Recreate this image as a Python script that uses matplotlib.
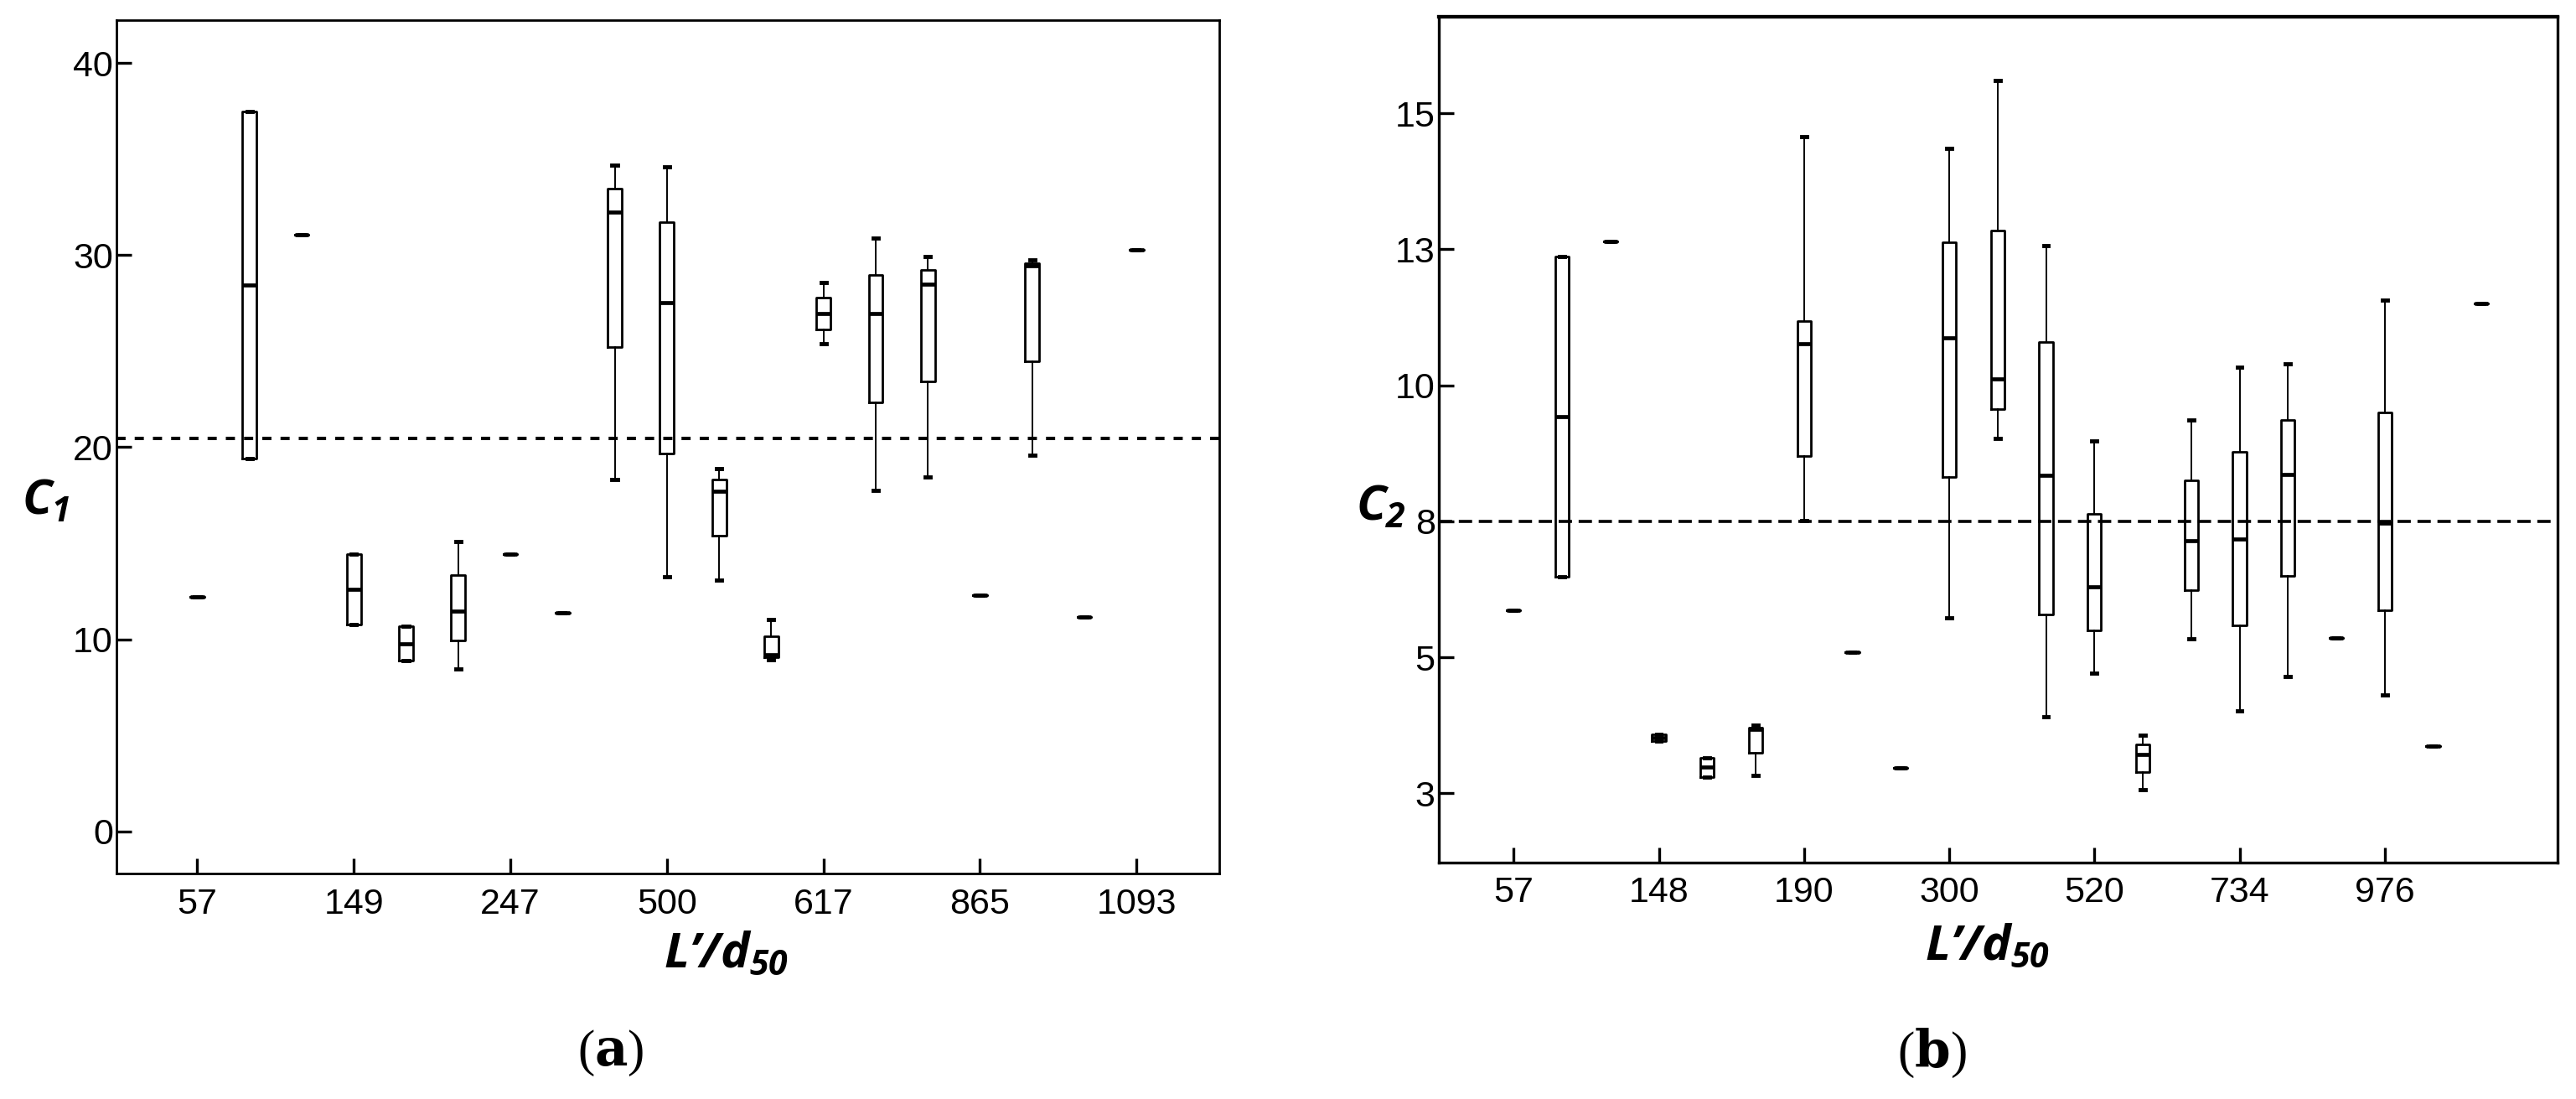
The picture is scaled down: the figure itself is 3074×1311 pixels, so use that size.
import matplotlib
matplotlib.use("Agg")
import matplotlib.pyplot as plt
from matplotlib import font_manager

# pick the first family that is actually installed
def pick_font(names):
    for n in names:
        try:
            font_manager.findfont(n, fallback_to_default=False)
            return n
        except Exception:
            pass
    return "DejaVu Sans"

SANS = pick_font(["Liberation Sans", "DejaVu Sans"])
LABEL = pick_font(["Open Sans", "Noto Sans", "DejaVu Sans"])
SERIF = pick_font(["Liberation Serif", "DejaVu Serif"])

plt.rcParams["font.family"] = [SANS, "DejaVu Sans"]
plt.rcParams["mathtext.fontset"] = "custom"
plt.rcParams["mathtext.it"] = f"{LABEL}:italic:bold"
plt.rcParams["mathtext.rm"] = f"{LABEL}:italic:bold"
plt.rcParams["mathtext.bf"] = f"{LABEL}:italic:bold"

# ---- panel (a): C1 ----
a_ticklabels = ["57", "149", "247", "500", "617", "865", "1093"]
a_whislo = [12.23, 19.43, 31.05, 10.77, 8.89, 8.44, 14.45, 11.38, 18.30, 13.26,
            13.10, 8.93, 25.40, 17.75, 18.44, 12.31, 19.57, 11.17, 30.26]
a_q1 = [12.23, 19.43, 31.05, 10.77, 8.89, 9.94, 14.45, 11.38, 25.20, 19.69,
        15.38, 9.05, 26.12, 22.33, 23.44, 12.31, 24.46, 11.17, 30.26]
a_med = [12.23, 28.43, 31.05, 12.60, 9.78, 11.46, 14.45, 11.38, 32.22, 27.53,
         17.71, 9.19, 26.98, 26.96, 28.47, 12.31, 29.44, 11.17, 30.26]
a_q3 = [12.23, 37.46, 31.05, 14.45, 10.67, 13.34, 14.45, 11.38, 33.45, 31.71,
        18.32, 10.18, 27.78, 28.95, 29.23, 12.31, 29.58, 11.17, 30.26]
a_whishi = [12.23, 37.46, 31.05, 14.45, 10.67, 15.08, 14.45, 11.38, 34.70, 34.58,
            18.89, 11.05, 28.56, 30.90, 29.93, 12.31, 29.76, 11.17, 30.26]
a_ref = 20.45

# ---- panel (b): C2 ----
b_ticklabels = ["57", "148", "190", "300", "520", "734", "976"]
b_whislo = [5.86, 6.48, 12.65, 3.46, 2.80, 2.83, 7.52, 5.09, 2.96, 5.73, 9.02,
            3.90, 4.70, 2.56, 5.34, 4.01, 4.64, 5.36, 4.31, 3.37, 11.51]
b_q1 = [5.86, 6.48, 12.65, 3.46, 2.80, 3.24, 8.70, 5.09, 2.96, 8.31, 9.56,
        5.78, 5.49, 2.89, 6.23, 5.59, 6.50, 5.36, 5.86, 3.37, 11.51]
b_med = [5.86, 9.42, 12.65, 3.52, 2.98, 3.68, 10.76, 5.09, 2.96, 10.88, 10.12,
         8.35, 6.29, 3.21, 7.14, 7.18, 8.36, 5.36, 7.46, 3.37, 11.51]
b_q3 = [5.86, 12.37, 12.65, 3.58, 3.15, 3.71, 11.18, 5.09, 2.96, 12.63, 12.85,
        10.80, 7.64, 3.39, 8.26, 8.78, 9.37, 5.36, 9.50, 3.37, 11.51]
b_whishi = [5.86, 12.37, 12.65, 3.58, 3.15, 3.75, 14.57, 5.09, 2.96, 14.35, 15.60,
            12.57, 8.98, 3.56, 9.36, 10.34, 10.39, 5.36, 11.56, 3.37, 11.51]
b_ref = 7.5
b_yticks = [2.5, 5.0, 7.5, 10.0, 12.5, 15.0]
b_yticklabels = ["3", "5", "8", "10", "13", "15"]


def draw_panel(ax, lo, q1, med, q3, hi, ticklabels, ref, dash, dash_lw, width):
    stats = []
    for i in range(len(med)):
        stats.append(dict(whislo=lo[i], q1=q1[i], med=med[i], q3=q3[i],
                          whishi=hi[i], fliers=[]))
    ax.bxp(stats, positions=range(len(med)), widths=width, showfliers=False,
           capwidths=0.1,
           boxprops=dict(color="black", linewidth=2.0),
           medianprops=dict(color="black", linewidth=3.4, solid_capstyle="butt"),
           whiskerprops=dict(color="black", linewidth=1.4),
           capprops=dict(color="black", linewidth=3.5))
    ax.axhline(ref, color="black", linewidth=dash_lw, linestyle=dash, zorder=0)
    n = len(med)
    ax.set_xlim(-1.55, n - 1 + 1.58)
    ax.set_xticks(range(0, n, 3))
    ax.set_xticklabels(ticklabels)
    for s in ax.spines.values():
        s.set_linewidth(2.0)
    ax.tick_params(axis="both", direction="in", length=13, width=2.4,
                   labelsize=31, pad=3)
    ax.tick_params(axis="x", pad=12)


fig = plt.figure(figsize=(30.74, 13.11), dpi=100)

ax1 = fig.add_axes([0.0452, 0.205, 0.428, 0.777])
draw_panel(ax1, a_whislo, a_q1, a_med, a_q3, a_whishi, a_ticklabels, a_ref,
           (0, (2.7, 2.7)), 2.9, 0.27)
ax1.set_ylim(-2.2, 42.25)
ax1.set_yticks([0, 10, 20, 30, 40])
ax1.text(-0.064, 0.436, r"$C_1$", transform=ax1.transAxes, fontsize=42,
         ha="center", va="center")
ax1.text(0.553, -0.095, r"$L$’$/d_{50}$", transform=ax1.transAxes,
         fontsize=42, ha="center", va="center", fontweight="bold",
         style="italic", family=LABEL)

ax2 = fig.add_axes([0.5585, 0.2154, 0.4345, 0.769])
draw_panel(ax2, b_whislo, b_q1, b_med, b_q3, b_whishi, b_ticklabels, b_ref,
           (0, (4.4, 2.2)), 2.6, 0.28)
ax2.set_ylim(1.23, 16.77)
ax2.set_yticks(b_yticks)
ax2.set_yticklabels(b_yticklabels)
for s in ax2.spines.values():
    s.set_linewidth(2.4)
ax2.spines["top"].set_linewidth(3.1)
ax2.text(-0.052, 0.42, r"$C_2$", transform=ax2.transAxes, fontsize=42,
         ha="center", va="center")
ax2.text(0.49, -0.10, r"$L$’$/d_{50}$", transform=ax2.transAxes,
         fontsize=42, ha="center", va="center", fontweight="bold",
         style="italic", family=LABEL)

# captions
for x, letter in [(0.237, "a"), (0.75, "b")]:
    fig.text(x, 0.042, "(" + r"$\mathbf{" + letter + "}$" + ")",
             ha="center", va="center", fontsize=44, family=SERIF,
             math_fontfamily="dejavuserif")

fig.savefig("out.png", dpi=100)
